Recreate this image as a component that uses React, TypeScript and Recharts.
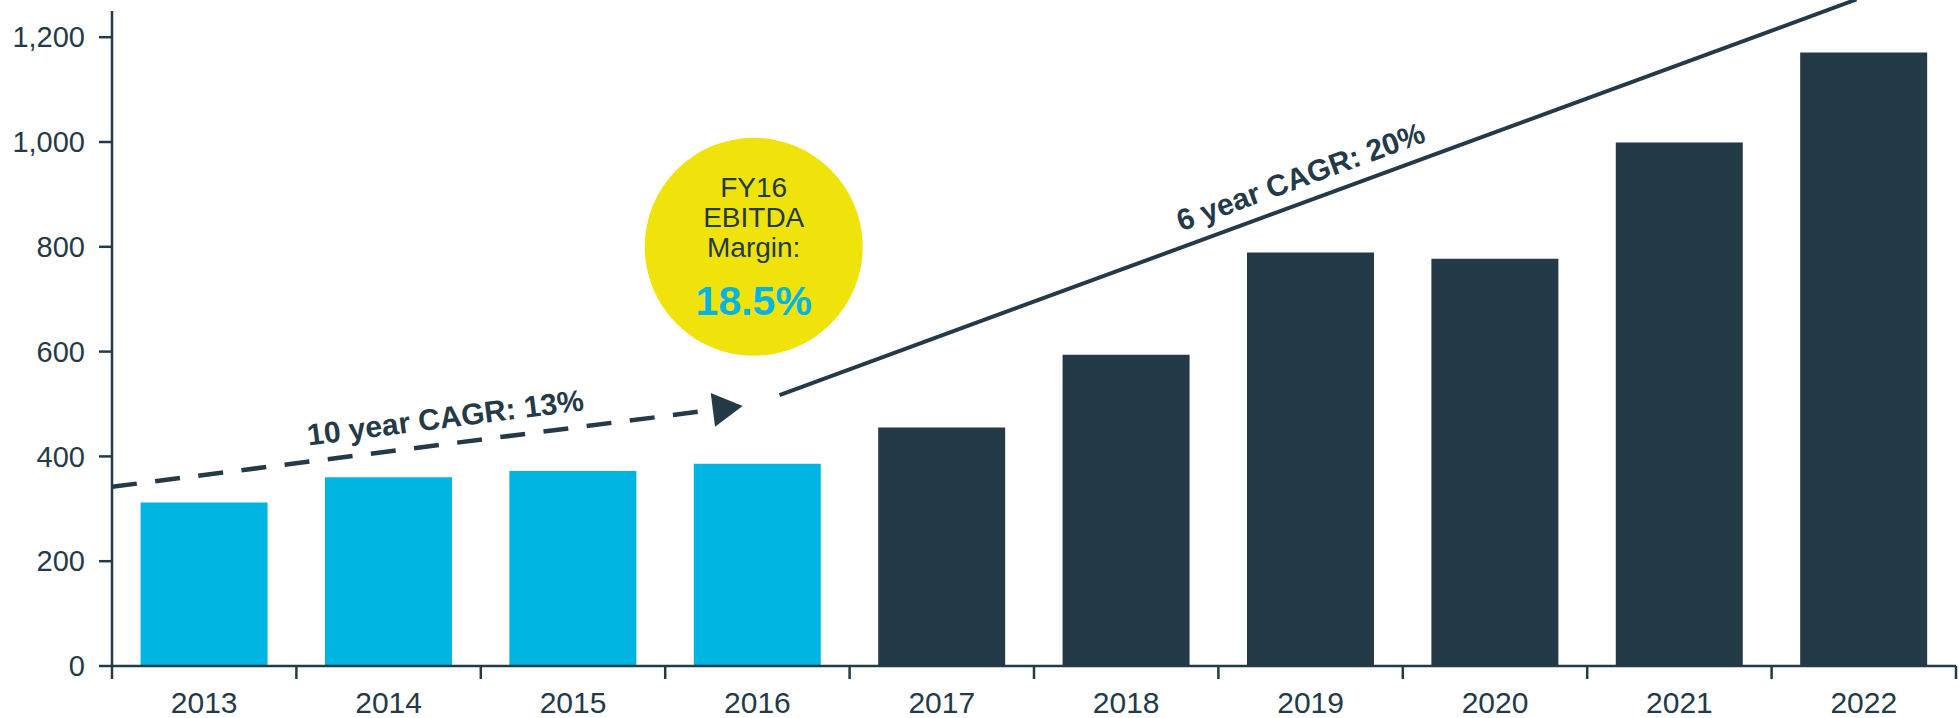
// Revenue bars FY13–FY22 with CAGR trend annotations and an EBITDA margin bubble.
import { Bar, BarChart, Cell, ReferenceDot, ReferenceLine, XAxis, YAxis } from 'recharts';

const years = ['2013', '2014', '2015', '2016', '2017', '2018', '2019', '2020', '2021', '2022'];
const revenue = [312, 360, 372, 386, 455, 594, 789, 777, 999, 1171];
const highlighted = [true, true, true, true, false, false, false, false, false, false];
const yTicks = [0, 200, 400, 600, 800, 1000, 1200];

// trend segments in data coordinates (x = year index, y = value)
const tenYearTrend = [
  { x: -0.5, y: 342 },
  { x: 2.92, y: 496 },
];
const tenYearLabel = '10 year CAGR: 13%';
const sixYearTrend = [
  { x: 3.12, y: 517 },
  { x: 8.96, y: 1272 },
];
const sixYearLabel = '6 year CAGR: 20%';
const bubble = { x: 2.98, y: 800 };
const bubbleLines = ['FY16', 'EBITDA', 'Margin:'];
const bubbleValue = '18.5%';

const DARK = '#243a47';
const CYAN = '#00b5e2';
const YELLOW = '#f0e30c';
const FONT = '"Liberation Sans", Arial, sans-serif';

const W = 1959;
const H = 718;
const MARGIN = { top: 11, right: 3, bottom: 0, left: 0 };
const Y_AXIS_W = 112;
const BAND = (W - MARGIN.left - MARGIN.right - Y_AXIS_W) / years.length;

const data = years.map((year, i) => ({ idx: i, year, value: revenue[i] }));

function YearTick(props: any) {
  const { x, y, payload, index } = props;
  const half = BAND / 2;
  return (
    <g>
      <line x1={x - half} x2={x - half} y1={y} y2={y + 13} stroke={DARK} strokeWidth={2.5} />
      {index === years.length - 1 && (
        <line x1={x + half} x2={x + half} y1={y} y2={y + 13} stroke={DARK} strokeWidth={2.5} />
      )}
      <text x={x} y={y + 26} dy="0.71em" textAnchor="middle" fill={DARK} fontSize={30} fontFamily={FONT}>
        {years[payload.value]}
      </text>
    </g>
  );
}

function DashedArrow(props: any) {
  const { x1, y1, x2, y2 } = props;
  const deg = (Math.atan2(y2 - y1, x2 - x1) * 180) / Math.PI;
  const len = Math.hypot(x2 - x1, y2 - y1);
  const head = 30;
  return (
    <g transform={`translate(${x1},${y1}) rotate(${deg})`}>
      <line x1={0} y1={0} x2={len - head + 2} y2={0} stroke={DARK} strokeWidth={4.5} strokeDasharray="25 18.5" />
      <polygon points={`${len},0 ${len - head},${-17} ${len - head},${17}`} fill={DARK} />
      <text x={len * 0.534} y={-16} textAnchor="middle" fill={DARK} fontSize={30} fontWeight="bold" fontFamily={FONT}>
        {tenYearLabel}
      </text>
    </g>
  );
}

function SolidTrend(props: any) {
  const { x1, y1, x2, y2 } = props;
  const deg = (Math.atan2(y2 - y1, x2 - x1) * 180) / Math.PI;
  const len = Math.hypot(x2 - x1, y2 - y1);
  return (
    <g transform={`translate(${x1},${y1}) rotate(${deg})`}>
      <line x1={0} y1={0} x2={len} y2={0} stroke={DARK} strokeWidth={4} />
      <text x={len * 0.492} y={-15} textAnchor="middle" fill={DARK} fontSize={30} fontWeight="bold" fontFamily={FONT}>
        {sixYearLabel}
      </text>
    </g>
  );
}

function MarginBubble(props: any) {
  const { cx, cy } = props;
  return (
    <g fontFamily={FONT} textAnchor="middle">
      <circle cx={cx} cy={cy} r={109} fill={YELLOW} />
      {bubbleLines.map((line, i) => (
        <text key={line} x={cx} y={cy - 50 + i * 30} fill={DARK} fontSize={28}>
          {line}
        </text>
      ))}
      <text x={cx} y={cy + 68} fill={CYAN} fontSize={41} fontWeight="bold">
        {bubbleValue}
      </text>
    </g>
  );
}

export default function App() {
  return (
    <div style={{ position: 'absolute', left: 0, top: 0 }}>
      <BarChart width={W} height={H} data={data} margin={MARGIN} barCategoryGap="15.5%">
        <XAxis
          dataKey="idx"
          type="number"
          domain={[-0.5, 9.5]}
          ticks={years.map((_, i) => i)}
          interval={0}
          height={52}
          tickLine={false}
          tickSize={0}
          tickMargin={0}
          tick={<YearTick />}
          axisLine={{ stroke: DARK, strokeWidth: 2.5 }}
        />
        <YAxis
          domain={[0, 1250]}
          ticks={yTicks}
          width={Y_AXIS_W}
          tickSize={13}
          tickMargin={14}
          tickFormatter={(v: number) => v.toLocaleString('en-US')}
          tick={{ fill: DARK, fontSize: 29, fontFamily: FONT }}
          tickLine={{ stroke: DARK, strokeWidth: 2.5 }}
          axisLine={{ stroke: DARK, strokeWidth: 2.5 }}
        />
        <Bar dataKey="value" isAnimationActive={false}>
          {data.map((d, i) => (
            <Cell key={d.year} fill={highlighted[i] ? CYAN : DARK} />
          ))}
        </Bar>
        <ReferenceLine
          segment={[tenYearTrend[0], tenYearTrend[1]]}
          ifOverflow="visible"
          shape={(p: any) => <DashedArrow {...p} />}
        />
        <ReferenceLine
          segment={[sixYearTrend[0], sixYearTrend[1]]}
          ifOverflow="visible"
          shape={(p: any) => <SolidTrend {...p} />}
        />
        <ReferenceDot
          x={bubble.x}
          y={bubble.y}
          r={109}
          ifOverflow="visible"
          shape={(p: any) => <MarginBubble {...p} />}
        />
      </BarChart>
    </div>
  );
}
